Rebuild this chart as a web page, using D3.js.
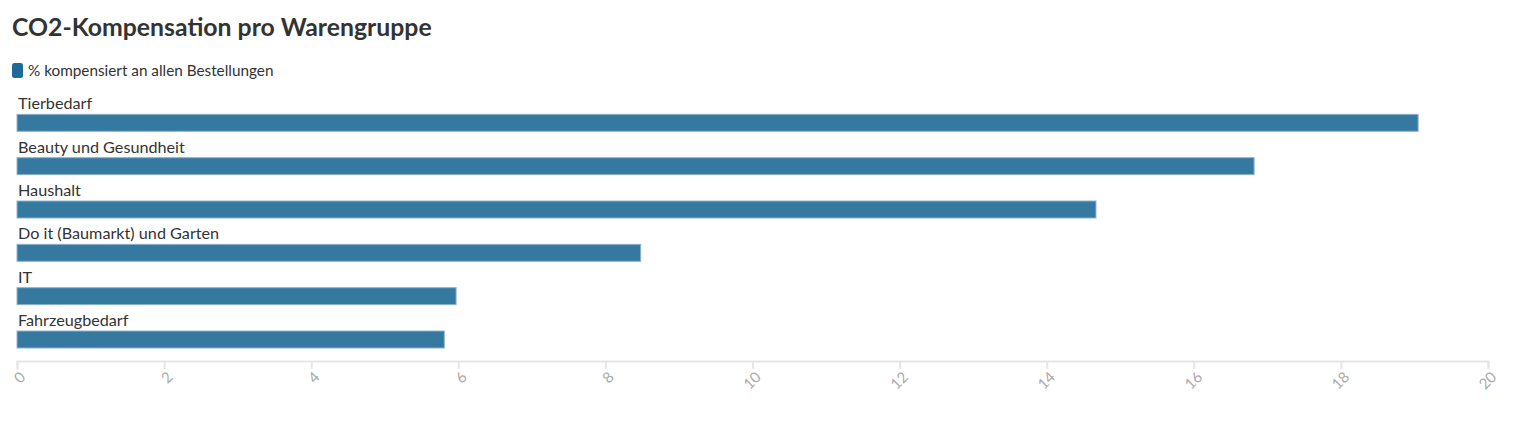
<!DOCTYPE html>
<html><head><meta charset="utf-8">
<script src="https://cdn.jsdelivr.net/npm/d3@7"></script>
<style>
body{margin:0;background:#fff;font-family:"Source Sans Pro","Lato","Noto Sans",sans-serif;}
</style></head>
<body><svg id="c" width="1519" height="436"></svg>
<script>
const categories = ["Tierbedarf","Beauty und Gesundheit","Haushalt","Do it (Baumarkt) und Garten","IT","Fahrzeugbedarf"];
const values = [19.05, 16.82, 14.67, 8.48, 5.97, 5.81];
const ticks = [0,2,4,6,8,10,12,14,16,18,20];
const seriesName = "% kompensiert an allen Bestellungen";
const title = "CO2-Kompensation pro Warengruppe";

const svg = d3.select("#c");
const font = "Lato, 'Noto Sans', sans-serif";
const barColor = "#3579a1";

svg.append("text").attr("x",12).attr("y",36).text(title)
  .attr("font-family",font).attr("font-weight",700).attr("font-size",24.8).attr("fill","#333");

svg.append("rect").attr("x",12).attr("y",63).attr("width",11).attr("height",15).attr("rx",2.5)
  .attr("fill","#1f6a99");
svg.append("text").attr("x",28).attr("y",76).text(seriesName)
  .attr("font-family",font).attr("font-size",15.3).attr("fill","#333");

const x = d3.scaleLinear().domain([0,20]).range([17,1488]);
const y = d3.scaleBand().domain(categories).range([88,348]).paddingInner(0);
const barH = 17;

const g = svg.append("g");
const rows = g.selectAll("g.row").data(categories).enter().append("g");
rows.append("rect")
  .attr("x", x(0))
  .attr("y", d => y(d) + y.bandwidth() - barH)
  .attr("width", (d,i) => x(values[i]) - x(0))
  .attr("height", barH)
  .attr("fill", barColor)
  .attr("stroke","#8fb3cb").attr("stroke-width",1);
rows.append("text")
  .attr("x", 18)
  .attr("y", d => y(d) + y.bandwidth() - barH - 5)
  .text(d => d)
  .attr("font-family",font).attr("font-size",16.2).attr("fill","#333");

const axis = d3.axisBottom(x).tickValues(ticks).tickSize(8).tickFormat(d3.format("d"));
const ag = svg.append("g").attr("transform","translate(0,361)").call(axis);
ag.select(".domain").attr("stroke","#e6e6e6").attr("stroke-width",2);
ag.selectAll(".tick line").attr("stroke","#e6e6e6").attr("stroke-width",2);
ag.selectAll(".tick text")
  .attr("font-family",font).attr("font-size",15).attr("fill","#aaa")
  .attr("text-anchor","end")
  .attr("dy",0).attr("dx",0)
  .attr("transform","translate(9,17) rotate(-45)")
  .attr("y",0).attr("x",0);
</script></body></html>
